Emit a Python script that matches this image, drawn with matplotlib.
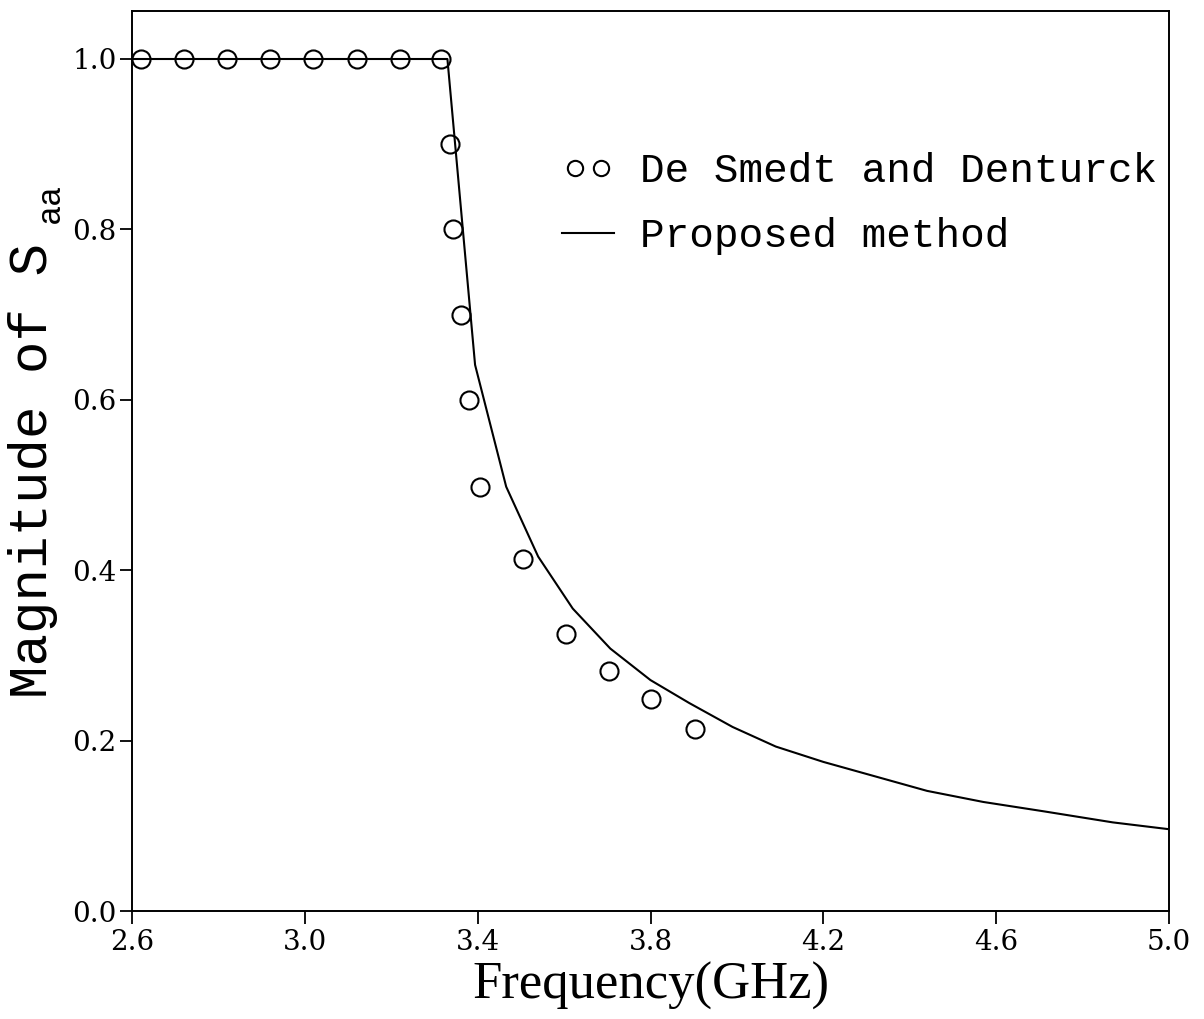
import numpy as np
import matplotlib
matplotlib.use('Agg')
import matplotlib.pyplot as plt
from matplotlib.legend_handler import HandlerLine2D

# De Smedt and Denturck reference points
freq_ref = [2.62, 2.72, 2.82, 2.92, 3.02, 3.12, 3.22, 3.315,
            3.335, 3.344, 3.362, 3.379, 3.406, 3.504, 3.604, 3.703, 3.801, 3.902]
mag_ref = [1.0, 1.0, 1.0, 1.0, 1.0, 1.0, 1.0, 1.0,
           0.9, 0.8, 0.7, 0.6, 0.498, 0.413, 0.325, 0.282, 0.249, 0.214]

# proposed method
freq_calc = [2.6, 3.33, 3.394, 3.466, 3.54, 3.62, 3.707, 3.80, 3.89, 3.99,
             4.09, 4.20, 4.32, 4.44, 4.57, 4.71, 4.87, 5.0]
mag_calc = [1.0, 1.0, 0.641, 0.498, 0.416, 0.355, 0.308, 0.271, 0.244, 0.216,
            0.193, 0.175, 0.158, 0.141, 0.128, 0.117, 0.104, 0.096]

xticks = [2.6, 3.0, 3.4, 3.8, 4.2, 4.6, 5.0]
yticks = [0.0, 0.2, 0.4, 0.6, 0.8, 1.0]

fig = plt.figure(figsize=(12.04, 10.19), dpi=100)
ax = fig.add_axes([132/1204, 1 - 911/1019, (1169 - 132)/1204, (911 - 11)/1019])

pts, = ax.plot(freq_ref, mag_ref, linestyle='none', marker='o', markersize=13,
               markerfacecolor='none', markeredgecolor='black', markeredgewidth=1.5,
               label='De Smedt and Denturck')
ln, = ax.plot(freq_calc, mag_calc, color='black', linewidth=1.5, label='Proposed method')

ax.set_xlim(2.6, 5.0)
ax.set_ylim(0.0, (911 - 11)/852)
ax.set_xticks(xticks)
ax.set_yticks(yticks)
ax.set_xticklabels(['%.1f' % v for v in xticks])
ax.set_yticklabels(['%.1f' % v for v in yticks])
ax.tick_params(direction='out', length=9, width=1.3, top=False, right=False)
ax.tick_params(axis='x', pad=4)
ax.tick_params(axis='y', pad=2)
for lab in ax.get_xticklabels() + ax.get_yticklabels():
    lab.set_family('DejaVu Serif')
    lab.set_fontsize(20)
for sp in ax.spines.values():
    sp.set_linewidth(1.4)

ax.set_xlabel('Frequency(GHz)', family='Liberation Serif', fontsize=38, labelpad=4)

# y label with subscript
fig.text(33/1204, 1 - 470/1019, 'Magnitude of S', rotation=90, ha='center', va='center',
         family='Liberation Mono', fontsize=39)
fig.text(50/1204, 1 - 203/1019, 'aa', rotation=90, ha='center', va='center',
         family='Liberation Mono', fontsize=24)

leg = ax.legend(handles=[pts, ln], loc='upper left',
                bbox_to_anchor=(546/1204, 1 - 136/1019),
                bbox_transform=fig.transFigure, frameon=False, numpoints=2,
                handlelength=1.25, handletextpad=0.65, labelspacing=0.65,
                handler_map={ln: HandlerLine2D(marker_pad=0)},
                prop={'family': 'Liberation Mono', 'size': 29.5}, borderaxespad=0)
for h in leg.legend_handles:
    h.set_markersize(11)

fig.savefig('out.png', dpi=100)
